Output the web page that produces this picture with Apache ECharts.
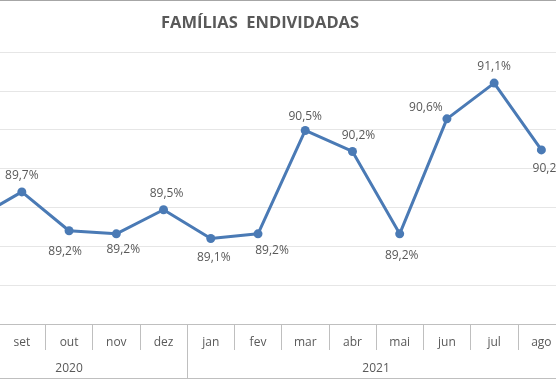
<!DOCTYPE html>
<html>
<head>
<meta charset="utf-8">
<script src="https://cdn.jsdelivr.net/npm/echarts@6/dist/echarts.min.js"></script>
<style>
html,body{margin:0;padding:0;background:#fff;width:556px;height:379px;overflow:hidden;position:relative;}
#c{position:absolute;left:-49px;top:0;width:614px;height:379px;}
</style>
</head>
<body>
<div id="c"></div>
<script>
// Data
var months = ['ago','set','out','nov','dez','jan','fev','mar','abr','mai','jun','jul','ago'];
var years = ['2020','2021'];
var yearSpans = [5, 8];
var values = [89.35, 89.7, 89.2, 89.16, 89.47, 89.1, 89.16, 90.49, 90.22, 89.16, 90.64, 91.1, 90.24];

// Label offsets (style only)
var labelOffsets = [[0,-16],[0,-16],[-4,21],[7,16],[3,-16],[3,19],[14,17],[0,-14],[6,-16],[2,22],[-21,-11],[0,-17],[8,19]];

var yearTicks = [0], yearCenters = [], acc = 0;
yearSpans.forEach(function(s){ yearCenters.push(acc + s/2); acc += s; yearTicks.push(acc); });

var txt = '#595959', axisCol = '#bfbfbf', font = 'Open Sans';

var chart = echarts.init(document.getElementById('c'));
chart.setOption({
  animation: false,
  backgroundColor: '#fff',
  title: {
    text: 'FAMÍLIAS  ENDIVIDADAS',
    left: 205, top: 10,
    textStyle: {fontFamily: font, fontSize: 16.5, fontWeight: 'bold', color: txt}
  },
  graphic: [{type:'rect', shape:{x:0,y:0,width:614,height:1}, style:{fill:'#a6a6a6'}}],
  grid: {left: 0, right: 0, top: 52, bottom: 55, containLabel: false},
  xAxis: [{
    type: 'category',
    data: months,
    boundaryGap: true,
    position: 'bottom',
    axisLine: {show: true, lineStyle: {color: axisCol, width: 1}},
    axisTick: {show: true, interval: 0, length: 26, lineStyle: {color: axisCol}},
    axisLabel: {interval: 0, margin: 13, color: txt, fontFamily: font, fontSize: 12},
    splitLine: {show: false}
  },{
    type: 'value',
    min: 0, max: acc,
    position: 'bottom',
    offset: 54,
    axisLine: {show: true, lineStyle: {color: axisCol, width: 1}},
    axisTick: {show: true, inside: true, length: 54, customValues: yearTicks, lineStyle: {color: axisCol}},
    axisLabel: {show: true, inside: true, margin: 3, customValues: yearCenters, color: txt, fontFamily: font, fontSize: 12,
      formatter: function(v){ var i = yearCenters.indexOf(v); return i >= 0 ? years[i] : ''; }},
    splitLine: {show: false}
  }],
  yAxis: {
    type: 'value',
    min: 88, max: 91.5, interval: 0.5,
    axisLine: {show: false}, axisTick: {show: false}, axisLabel: {show: false},
    splitLine: {show: true, lineStyle: {color: '#e6e6e6', width: 1}}
  },
  series: [{
    type: 'line',
    xAxisIndex: 0,
    data: values.map(function(v, i){
      return {value: v, label: {offset: labelOffsets[i]}};
    }),
    symbol: 'circle',
    symbolSize: 9,
    lineStyle: {color: '#4a7ab5', width: 3},
    itemStyle: {color: '#4a7ab5'},
    label: {
      show: true, position: 'inside', align: 'center', verticalAlign: 'middle',
      color: txt, fontFamily: font, fontSize: 12,
      formatter: function(p){ return p.value.toFixed(1).replace('.', ',') + '%'; }
    }
  }]
});
</script>
</body>
</html>
